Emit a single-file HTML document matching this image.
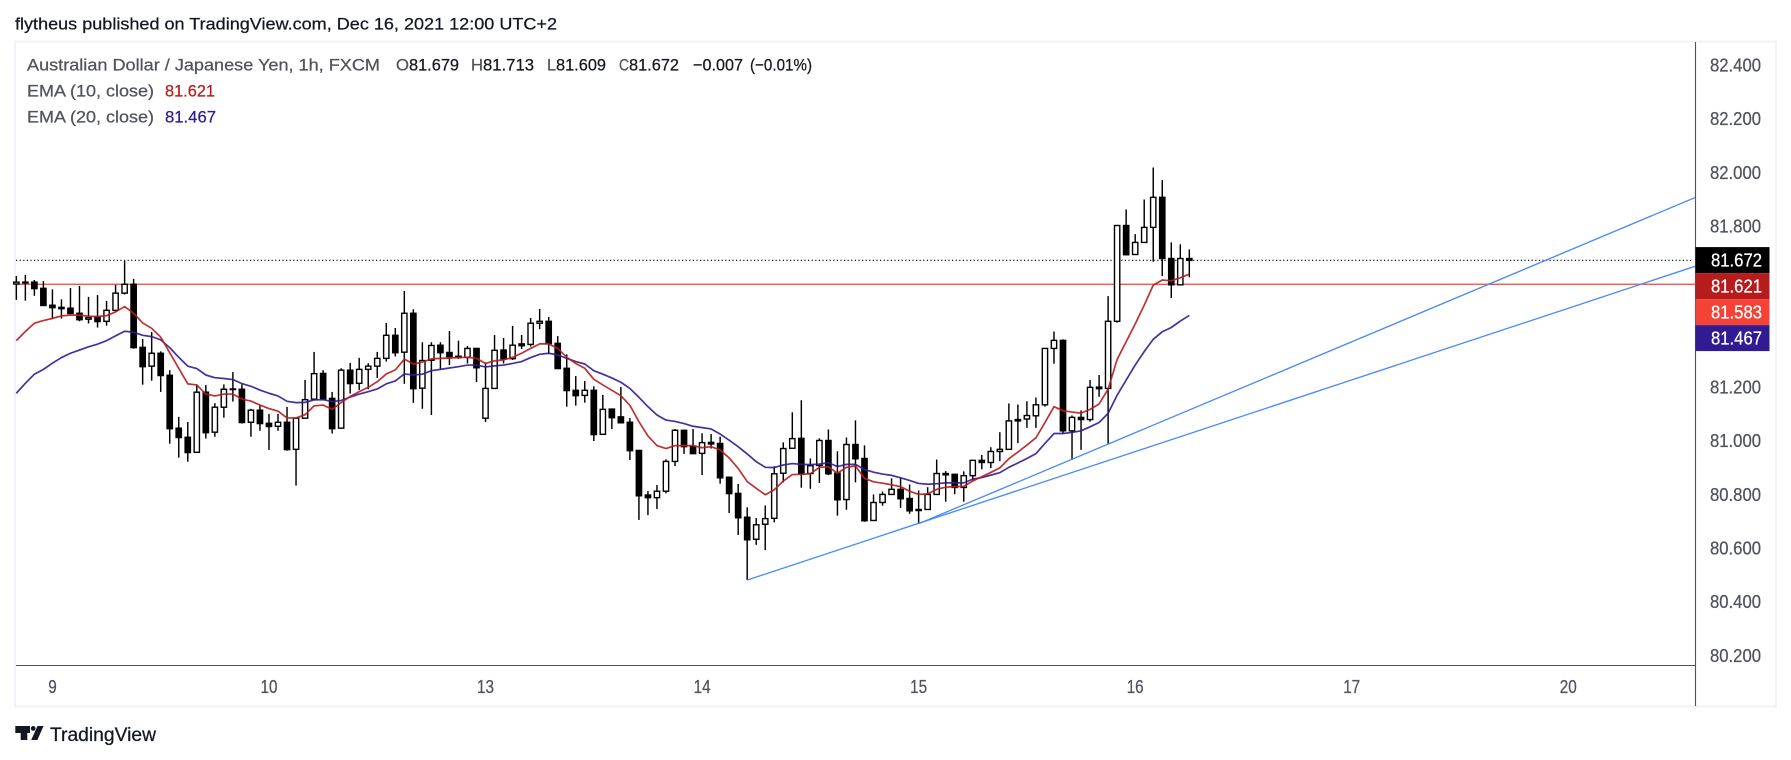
<!DOCTYPE html>
<html lang="en">
<head>
<meta charset="utf-8">
<title>Australian Dollar / Japanese Yen chart</title>
<style>
html,body{margin:0;padding:0;background:#fff;}
body{width:1791px;height:760px;overflow:hidden;}
svg{display:block;}
text{font-family:"Liberation Sans",sans-serif;}
</style>
</head>
<body>
<svg id="chart" xmlns="http://www.w3.org/2000/svg" width="1791" height="760" viewBox="0 0 1791 760">
  <rect x="0" y="0" width="1791" height="760" fill="#ffffff"/>
  <text x="15" y="29.5" font-size="17" fill="#131722" textLength="542" lengthAdjust="spacingAndGlyphs">flytheus published on TradingView.com, Dec 16, 2021 12:00 UTC+2</text>
  <rect x="15" y="41.5" width="1761" height="665" fill="#ffffff" stroke="#f0f3fa" stroke-width="2"/>
  <g id="plot"></g>
  <g font-size="17">
    <text x="27" y="70.3" fill="#50535e" textLength="353" lengthAdjust="spacingAndGlyphs">Australian Dollar / Japanese Yen, 1h, FXCM</text>
    <text x="396" y="70.3" fill="#50535e" textLength="13" lengthAdjust="spacingAndGlyphs">O</text>
    <text x="409" y="70.3" fill="#131722" textLength="50" lengthAdjust="spacingAndGlyphs">81.679</text>
    <text x="471" y="70.3" fill="#50535e" textLength="12" lengthAdjust="spacingAndGlyphs">H</text>
    <text x="483" y="70.3" fill="#131722" textLength="51" lengthAdjust="spacingAndGlyphs">81.713</text>
    <text x="547" y="70.3" fill="#50535e" textLength="9" lengthAdjust="spacingAndGlyphs">L</text>
    <text x="556" y="70.3" fill="#131722" textLength="50" lengthAdjust="spacingAndGlyphs">81.609</text>
    <text x="619" y="70.3" fill="#50535e" textLength="10" lengthAdjust="spacingAndGlyphs">C</text>
    <text x="629" y="70.3" fill="#131722" textLength="50" lengthAdjust="spacingAndGlyphs">81.672</text>
    <text x="693" y="70.3" fill="#131722" textLength="50" lengthAdjust="spacingAndGlyphs">−0.007</text>
    <text x="750" y="70.3" fill="#131722" textLength="62" lengthAdjust="spacingAndGlyphs">(−0.01%)</text>
    <text x="27" y="96.7" fill="#50535e" textLength="127" lengthAdjust="spacingAndGlyphs">EMA (10, close)</text>
    <text x="165" y="96.7" fill="#b71c1c" textLength="50" lengthAdjust="spacingAndGlyphs">81.621</text>
    <text x="27" y="122.7" fill="#50535e" textLength="127" lengthAdjust="spacingAndGlyphs">EMA (20, close)</text>
    <text x="165" y="122.7" fill="#311b92" textLength="51" lengthAdjust="spacingAndGlyphs">81.467</text>
  </g>
  <g>
    <path d="M15.3 726H30V733H27.3V740H20.7V733H15.3Z" fill="#131722"/>
    <circle cx="33.2" cy="728.4" r="2.4" fill="#131722"/>
    <path d="M37.5 726H43.5L37.4 740H31.2Z" fill="#131722"/>
    <text x="50" y="741" font-size="19" fill="#131722" textLength="106" lengthAdjust="spacingAndGlyphs">TradingView</text>
  </g>
</svg>
<script>
var opens = [
81.584,81.588,81.591,81.568,81.505,81.497,81.494,81.475,81.453,81.460,
81.445,81.486,81.550,81.583,81.348,81.278,81.326,81.244,81.047,81.013,
80.957,81.181,81.032,81.125,81.191,81.192,81.069,81.114,81.065,81.054,
81.069,80.968,81.084,81.155,81.251,81.158,81.047,81.263,81.214,81.266,
81.278,81.307,81.393,81.330,81.475,81.196,81.300,81.356,81.329,81.315,
81.311,81.344,81.084,81.195,81.338,81.306,81.361,81.359,81.438,81.445,
81.363,81.270,81.188,81.169,81.188,81.024,81.118,81.089,81.069,80.964,
80.798,80.788,80.812,80.923,81.039,80.979,80.953,80.994,80.990,80.864,
80.804,80.715,80.633,80.689,80.711,80.879,80.972,81.009,80.878,80.908,
81.001,80.879,80.781,80.986,80.934,80.703,80.770,80.800,80.819,80.785,
80.744,80.744,80.800,80.878,80.875,80.826,80.870,80.927,80.919,80.960,
80.968,81.079,81.081,81.093,81.134,81.344,81.374,81.037,81.087,81.079,
81.200,81.195,81.445,81.802,81.694,81.739,81.795,81.907,81.679,81.581,
81.679];
var highs = [
81.614,81.618,81.599,81.595,81.564,81.527,81.569,81.577,81.536,81.543,
81.521,81.581,81.670,81.603,81.379,81.405,81.333,81.263,81.089,81.070,
81.210,81.208,81.140,81.210,81.256,81.210,81.119,81.132,81.100,81.100,
81.126,81.084,81.227,81.331,81.263,81.182,81.270,81.290,81.309,81.289,
81.331,81.439,81.420,81.558,81.490,81.367,81.367,81.367,81.409,81.373,
81.353,81.344,81.292,81.394,81.383,81.428,81.394,81.457,81.491,81.461,
81.390,81.322,81.241,81.223,81.203,81.171,81.118,81.200,81.085,80.964,
80.813,80.835,80.931,81.044,81.041,81.044,81.028,81.025,81.015,80.867,
80.839,80.752,80.712,80.759,80.905,80.994,81.106,81.151,80.934,81.009,
81.042,80.961,81.012,81.076,80.983,80.800,80.811,80.860,80.860,80.837,
80.815,80.827,80.930,80.887,80.875,80.886,80.927,80.947,80.976,81.032,
81.139,81.135,81.147,81.161,81.344,81.407,81.378,81.094,81.113,81.226,
81.245,81.539,81.802,81.862,81.770,81.899,82.018,81.971,81.739,81.732,
81.713];
var lows = [
81.525,81.522,81.540,81.504,81.453,81.455,81.474,81.445,81.437,81.422,
81.429,81.480,81.545,81.343,81.209,81.224,81.182,80.989,80.937,80.922,
80.956,81.008,81.015,81.086,81.146,81.064,81.015,81.037,80.966,81.037,
80.963,80.833,81.083,81.153,81.153,81.027,81.045,81.176,81.189,81.192,
81.234,81.295,81.314,81.212,81.141,81.119,81.096,81.268,81.282,81.305,
81.288,81.219,81.070,81.194,81.288,81.301,81.342,81.351,81.416,81.323,
81.267,81.127,81.131,81.142,80.999,81.023,81.044,81.067,80.928,80.705,
80.723,80.746,80.804,80.906,80.951,80.951,80.872,80.971,80.840,80.731,
80.649,80.481,80.612,80.593,80.696,80.845,80.972,80.825,80.821,80.843,
80.872,80.721,80.743,80.845,80.698,80.702,80.758,80.800,80.750,80.728,
80.691,80.744,80.800,80.773,80.801,80.773,80.851,80.894,80.898,80.924,
80.968,80.991,81.048,81.048,81.127,81.287,81.026,80.929,80.966,81.071,
81.164,80.986,81.440,81.693,81.694,81.739,81.667,81.614,81.532,81.581,
81.609];
var closes = [
81.591,81.591,81.567,81.504,81.496,81.492,81.474,81.451,81.459,81.444,
81.486,81.550,81.583,81.347,81.276,81.326,81.243,81.045,81.012,80.956,
81.181,81.030,81.125,81.192,81.193,81.068,81.114,81.064,81.053,81.069,
80.967,81.084,81.153,81.250,81.156,81.045,81.263,81.213,81.266,81.278,
81.307,81.393,81.328,81.475,81.194,81.299,81.355,81.328,81.313,81.310,
81.344,81.272,81.195,81.337,81.305,81.356,81.354,81.438,81.445,81.362,
81.269,81.187,81.168,81.188,81.023,81.117,81.086,81.067,80.963,80.795,
80.788,80.812,80.923,81.039,80.978,80.952,80.993,80.988,80.862,80.803,
80.713,80.631,80.687,80.710,80.877,80.971,81.008,80.877,80.907,81.001,
80.877,80.780,80.986,80.933,80.702,80.770,80.800,80.819,80.784,80.739,
80.740,80.800,80.878,80.873,80.826,80.870,80.927,80.919,80.960,80.968,
81.074,81.074,81.094,81.134,81.344,81.374,81.037,81.087,81.079,81.199,
81.194,81.445,81.802,81.693,81.739,81.795,81.907,81.679,81.581,81.679,
81.672];
var ema10 = [
81.373,81.407,81.438,81.448,81.456,81.465,81.468,81.468,81.464,81.463,
81.466,81.480,81.500,81.475,81.439,81.419,81.386,81.328,81.270,81.212,
81.208,81.174,81.167,81.174,81.174,81.155,81.148,81.133,81.120,81.110,
81.085,81.085,81.097,81.130,81.133,81.117,81.142,81.165,81.183,81.199,
81.220,81.249,81.264,81.304,81.286,81.293,81.305,81.307,81.308,81.310,
81.311,81.307,81.288,81.298,81.301,81.311,81.326,81.344,81.361,81.361,
81.344,81.311,81.288,81.270,81.229,81.208,81.188,81.168,81.132,81.071,
81.018,80.982,80.971,80.982,80.982,80.982,80.974,80.978,80.966,80.936,
80.897,80.848,80.823,80.799,80.817,80.850,80.874,80.875,80.877,80.901,
80.903,80.879,80.901,80.906,80.860,80.847,80.842,80.836,80.829,80.812,
80.800,80.802,80.819,80.827,80.829,80.830,80.850,80.866,80.882,80.899,
80.933,80.958,80.984,81.011,81.068,81.127,81.112,81.107,81.103,81.117,
81.137,81.192,81.303,81.369,81.435,81.505,81.580,81.599,81.596,81.607,
81.621];
var ema20 = [
81.177,81.214,81.248,81.266,81.289,81.310,81.326,81.338,81.350,81.360,
81.373,81.391,81.408,81.404,81.393,81.388,81.376,81.347,81.311,81.278,
81.269,81.245,81.235,81.232,81.228,81.213,81.203,81.189,81.177,81.167,
81.147,81.142,81.143,81.152,81.153,81.146,81.150,81.163,81.174,81.183,
81.193,81.212,81.223,81.249,81.245,81.248,81.261,81.266,81.271,81.276,
81.282,81.282,81.275,81.279,81.282,81.288,81.295,81.310,81.322,81.326,
81.320,81.307,81.295,81.286,81.261,81.248,81.234,81.218,81.195,81.162,
81.127,81.096,81.077,81.072,81.064,81.054,81.049,81.044,81.025,81.002,
80.978,80.951,80.922,80.901,80.900,80.910,80.915,80.912,80.911,80.913,
80.918,80.904,80.912,80.912,80.893,80.883,80.876,80.871,80.862,80.852,
80.841,80.838,80.840,80.843,80.843,80.843,80.857,80.863,80.872,80.881,
80.901,80.917,80.934,80.952,80.990,81.027,81.027,81.031,81.037,81.052,
81.068,81.102,81.170,81.226,81.282,81.332,81.378,81.406,81.422,81.446,
81.467];
var priceTicks = ["82.400","82.200","82.000","81.800","81.600","81.400","81.200","81.000","80.800","80.600","80.400","80.200"];
var dayLabels = ["9","10","13","14","15","16","17","20"];
var dayBars = [4,28,52,76,100,124,148,172];
var supportBars = [81,186.04];
var supportPrices = [80.481,81.650];
var risingBars = [100,186.04];
var risingPrices = [80.691,81.906];
var levelPrice = 81.583;
var lastPrice = 81.672;
var badgeValues = ["81.672","81.621","81.583","81.467"];
var badgeNames = ["last-price-badge","ema10-badge","level-price-badge","ema20-badge"];
var badgeColors = ["#000000","#b71c1c","#f44336","#311b92"];

var NS = "http://www.w3.org/2000/svg";
var plot = document.getElementById("plot");
var plotLeft = 16, plotRight = 1695.5, plotTop = 42, axisY = 665.5, frameBottom = 706;

function xScale(bar) { return 16.33 + bar * 9.023; }
function yScale(price) { return 65 + (82.4 - price) * 268.4; }

function make(tag, attrs, parent) {
  var el = document.createElementNS(NS, tag);
  for (var k in attrs) el.setAttribute(k, attrs[k]);
  (parent || plot).appendChild(el);
  return el;
}
function linePath(bars, prices) {
  var d = "";
  for (var i = 0; i < prices.length; i++) {
    d += (i ? "L" : "M") + xScale(bars ? bars[i] : i).toFixed(2) + " " + yScale(prices[i]).toFixed(2);
  }
  return d;
}

// axis lines
var xAxisLine = make("line", {x1: plotLeft, x2: plotRight, y1: axisY, y2: axisY, stroke: "#50535e", "stroke-width": 1.1});


var yAxisLine = make("line", {x1: plotRight, x2: plotRight, y1: plotTop, y2: frameBottom, stroke: "#50535e", "stroke-width": 1.1});



// price ticks
priceTicks.forEach(function (t) {
  var el = make("text", {x: 1710, y: (yScale(parseFloat(t)) + 6.4).toFixed(1), "font-size": 18, fill: "#50535e", textLength: 51, lengthAdjust: "spacingAndGlyphs"});
  
  
  el.textContent = t;
});

// day ticks
dayLabels.forEach(function (t, i) {
  var w = t.length * 8.5;
  var el = make("text", {x: (xScale(dayBars[i]) - w / 2).toFixed(1), y: 693, "font-size": 18, fill: "#50535e", textLength: w, lengthAdjust: "spacingAndGlyphs"});
  
  
  el.textContent = t;
});

// horizontal levels
var lastLine = make("line", {x1: plotLeft, x2: plotRight - 2, y1: yScale(lastPrice), y2: yScale(lastPrice), stroke: "#131722", "stroke-width": 1.25, "stroke-dasharray": "1.2 2.4"});


var levelLine = make("line", {x1: plotLeft, x2: plotRight, y1: yScale(levelPrice), y2: yScale(levelPrice), stroke: "#f44336", "stroke-width": 1.25});



// candles
opens.forEach(function (o, i) {
  var c = closes[i], up = c >= o;
  var g = make("g", {});
  
  
  var x = xScale(i);
  var wick = make("line", {x1: x, x2: x, y1: yScale(highs[i]), y2: yScale(lows[i]), stroke: "#000000", "stroke-width": 1.45}, g);
  
  
  var top = yScale(Math.max(o, c)), bot = yScale(Math.min(o, c));
  var body = make("rect", {x: x - 2.65, y: top, width: 5.3, height: Math.max(bot - top, 0.6), fill: up ? "#ffffff" : "#000000", stroke: "#000000", "stroke-width": 1.4}, g);
  
  
});

// trend lines
var supportLine = make("path", {d: linePath(supportBars, supportPrices), fill: "none", stroke: "#4a8cf5", "stroke-width": 1.35});


var risingLine = make("path", {d: linePath(risingBars, risingPrices), fill: "none", stroke: "#4a8cf5", "stroke-width": 1.35});



// EMA lines
var ema20Line = make("path", {d: linePath(null, ema20), fill: "none", stroke: "#311b92", "stroke-width": 1.7, "stroke-linejoin": "round", opacity: 0.9});


var ema10Line = make("path", {d: linePath(null, ema10), fill: "none", stroke: "#b71c1c", "stroke-width": 1.7, "stroke-linejoin": "round", opacity: 0.9});



// price badges: stacked below the last price, as the scale resolves collisions
var badgeTop = yScale(parseFloat(badgeValues[0])) - 13.3;
badgeValues.forEach(function (v, i) {
  var r = make("rect", {x: plotRight, y: (badgeTop + i * 26).toFixed(1), width: 74, height: 26, fill: badgeColors[i]});
  
  
  var t = make("text", {x: 1711, y: (badgeTop + i * 26 + 19.4).toFixed(1), "font-size": 18, fill: "#ffffff", textLength: 51, lengthAdjust: "spacingAndGlyphs"});
  
  
  t.textContent = v;
});

// slightly heavier glyphs to match the weight of the reference text
Array.prototype.forEach.call(document.querySelectorAll("text"), function (t) {
  t.setAttribute("stroke", t.getAttribute("fill"));
  t.setAttribute("stroke-width", "0.25");
});
</script>
</body>
</html>
